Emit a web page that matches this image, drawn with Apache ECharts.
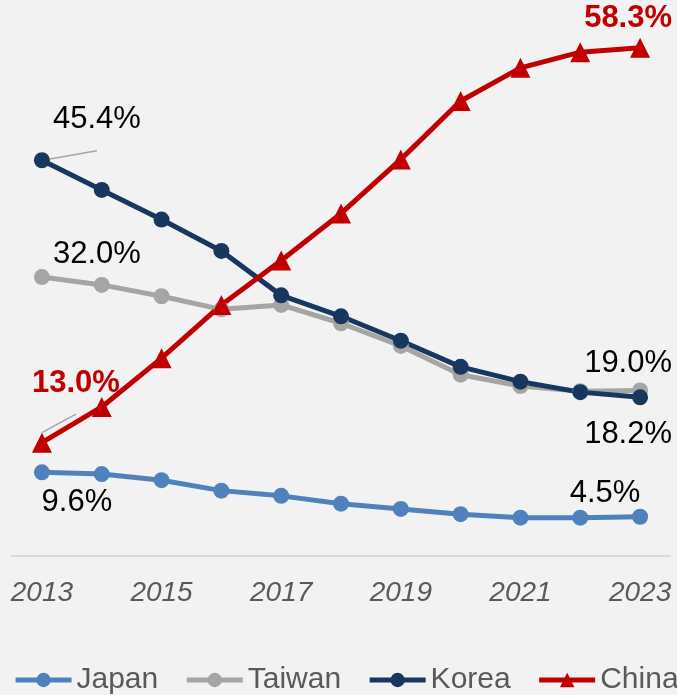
<!DOCTYPE html>
<html>
<head>
<meta charset="utf-8">
<script src="https://cdn.jsdelivr.net/npm/echarts@6/dist/echarts.min.js"></script>
<style>
html,body{margin:0;padding:0;background:#f2f2f2;}
#c{width:677px;height:695px;}
</style>
</head>
<body>
<div id="c"></div>
<script>
const years = ['2013','2014','2015','2016','2017','2018','2019','2020','2021','2022','2023'];
const japan  = [9.6, 9.4, 8.7, 7.5, 6.9, 6.0, 5.4, 4.8, 4.4, 4.4, 4.5];
const taiwan = [32.0, 31.1, 29.8, 28.3, 28.8, 26.7, 24.1, 20.8, 19.5, 18.9, 19.0];
const korea  = [45.4, 42.0, 38.6, 35.0, 29.9, 27.5, 24.7, 21.7, 20.0, 18.8, 18.2];
const china  = [13.0, 17.1, 22.7, 28.8, 33.9, 39.3, 45.5, 52.2, 56.0, 57.8, 58.3];

const FONT = '"Liberation Sans", Arial, sans-serif';
const fmt = p => p.value.toFixed(1) + '%';

function build(values, labels) {
  return values.map((v, i) => {
    const l = labels[i];
    if (!l) return { value: v };
    const item = {
      value: v,
      label: Object.assign({
        show: true, formatter: fmt, fontFamily: FONT, fontSize: 31, color: '#000'
      }, l.label)
    };
    if (l.labelLine) item.labelLine = l.labelLine;
    return item;
  });
}
const leader = { show: true, length2: 0, lineStyle: { color: '#a6a6a6', width: 1.5 } };
const last = years.length - 1;

const chart = echarts.init(document.getElementById('c'), null, { renderer: 'canvas' });
chart.setOption({
  backgroundColor: '#f2f2f2',
  animation: false,
  grid: { left: 12, right: 7, top: 33, bottom: 139, containLabel: false },
  xAxis: {
    type: 'category',
    data: years,
    boundaryGap: true,
    axisLine: { show: true, lineStyle: { color: '#d9d9d9', width: 2 } },
    axisTick: { show: false },
    axisLabel: {
      interval: 1, margin: 23, fontFamily: FONT, fontSize: 28, fontStyle: 'italic', color: '#595959'
    }
  },
  yAxis: { type: 'value', min: 0, max: 60, show: false, splitLine: { show: false } },
  legend: {
    left: 8, top: 660, width: 1200,
    itemWidth: 56, itemHeight: 18, itemGap: 26,
    lineStyle: { width: 5 },
    textStyle: { fontFamily: FONT, fontSize: 30, color: '#595959' },
    data: ['Japan', 'Taiwan', 'Korea', 'China']
  },
  series: [
    {
      name: 'Japan', type: 'line', symbol: 'circle', symbolSize: 16,
      itemStyle: { color: '#4f81bd' }, lineStyle: { color: '#4f81bd', width: 5 },
      data: build(japan, {
        0: { label: { position: 'bottom', offset: [35, 2] } },
        [last]: { label: { position: 'top', offset: [-35, 5] } }
      })
    },
    {
      name: 'Taiwan', type: 'line', symbol: 'circle', symbolSize: 16,
      itemStyle: { color: '#a5a5a5' }, lineStyle: { color: '#a5a5a5', width: 5 },
      data: build(taiwan, {
        0: { label: { position: 'top', offset: [55, 6] } },
        [last]: { label: { position: 'top', offset: [-12, 2] } }
      })
    },
    {
      name: 'Korea', type: 'line', symbol: 'circle', symbolSize: 16,
      itemStyle: { color: '#17375e' }, lineStyle: { color: '#17375e', width: 5 },
      data: build(korea, {
        0: { label: { position: 'top', offset: [55, -12] }, labelLine: leader },
        [last]: { label: { position: 'bottom', offset: [-12, 9] } }
      })
    },
    {
      name: 'China', type: 'line', symbol: 'triangle', symbolSize: 20,
      itemStyle: { color: '#c00000' }, lineStyle: { color: '#c00000', width: 5 },
      data: build(china, {
        0: { label: { position: 'top', offset: [34, -29], color: '#c00000', fontWeight: 'bold' }, labelLine: leader },
        [last]: { label: { position: 'top', offset: [-12, 1], color: '#c00000', fontWeight: 'bold' } }
      })
    }
  ]
});
</script>
</body>
</html>
